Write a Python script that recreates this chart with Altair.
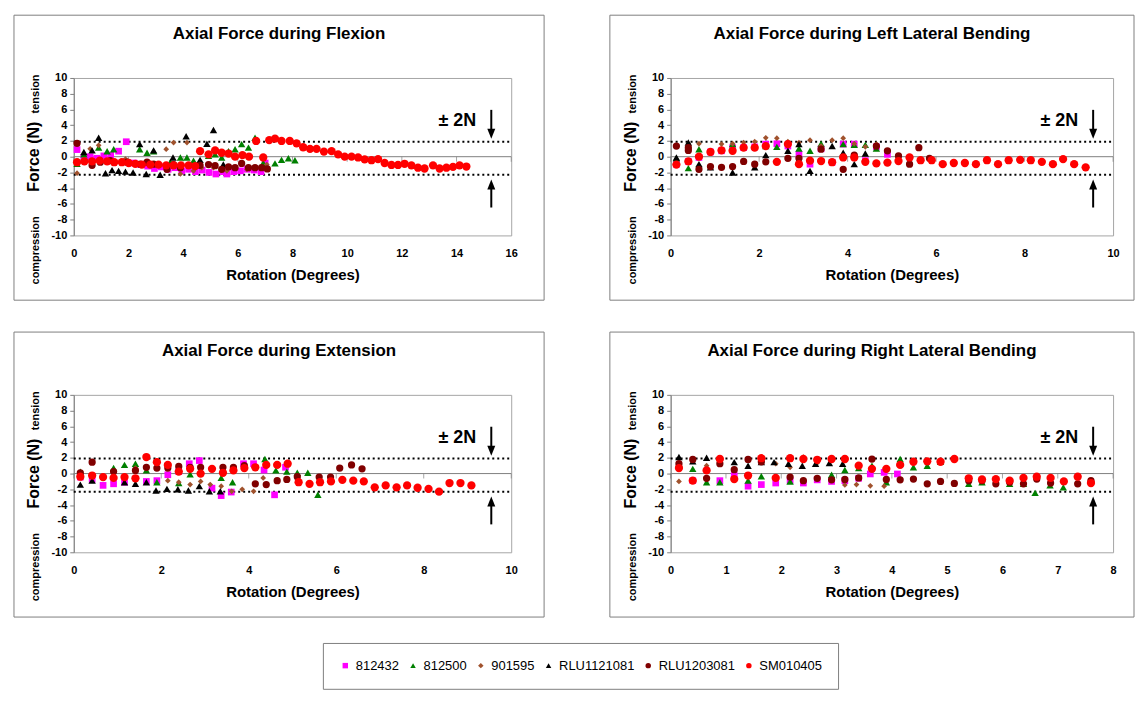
import altair as alt
import pandas as pd

SERIES = ["812432", "812500", "901595", "RLU1121081", "RLU1203081", "SM010405"]
COLORS = ["#FF00FF", "#008000", "#A0522D", "#000000", "#800000", "#FF0000"]
SHAPES = ["square", "triangle-up", "diamond", "triangle-up", "circle", "circle"]
SIZES = [45, 55, 33, 55, 53, 69]

TITLES = ["Axial Force during Flexion", "Axial Force during Left Lateral Bending",
          "Axial Force during Extension", "Axial Force during Right Lateral Bending"]
X_MAX = [16, 10, 10, 8]
X_STEP = [2, 2, 2, 1]
Y_TICKS = [-10, -8, -6, -4, -2, 0, 2, 4, 6, 8, 10]
THRESHOLDS = [1.9, -2.3]

# ---------------- Flexion ----------------
FLEX_812432 = [(0.12, 0.9), (0.37, -0.1), (0.6, 0.0), (0.85, -0.2), (1.1, 0.1), (1.35, 0.2), (1.64, 0.7),
               (1.92, 1.9), (2.2, -0.8), (2.45, -1.0), (2.7, -1.2), (2.95, -1.5), (3.2, -1.3), (3.45, -1.6),
               (3.7, -1.4), (3.95, -1.8), (4.2, -1.6), (4.45, -1.9), (4.7, -1.7), (4.95, -2.0), (5.2, -2.2),
               (5.45, -1.9), (5.6, -2.2), (5.85, -1.9), (6.1, -1.8), (6.35, -1.6), (6.6, -1.7), (6.85, -1.9),
               (7.0, -0.8)]
FLEX_812500 = [(0.12, -0.9), (0.37, 0.3), (0.91, 1.15), (1.22, 0.7), (1.46, 0.95), (2.41, 0.95), (2.68, 0.5),
               (2.92, 0.7), (3.53, -0.7), (3.9, -0.1), (4.14, -0.1), (4.38, -0.5), (4.93, 0.1), (5.17, 0.3),
               (5.41, -0.1), (5.66, 0.7), (5.9, 0.95), (6.14, 1.6), (6.39, 1.15), (6.63, 2.4), (6.93, -0.8),
               (7.36, -0.85), (7.6, -0.4), (7.85, -0.2), (8.09, -0.45)]
FLEX_901595 = [(0.12, -2.1), (0.12, 1.8), (0.6, 1.0), (0.91, 1.45), (1.89, -0.3), (3.38, 0.95), (3.65, 1.8),
               (3.9, -2.2), (4.14, 1.8), (4.38, -1.8), (4.68, -1.4), (5.11, -1.4), (5.6, -1.8), (6.33, -1.6),
               (7.06, -1.0)]
FLEX_RLU1121081 = [(0.37, 0.6), (0.67, 0.8), (0.91, 2.4), (1.16, -2.1), (1.4, -1.7), (1.64, -1.8), (1.89, -1.9),
                   (2.17, -2.0), (2.41, 1.6), (2.65, -2.2), (2.92, 0.8), (3.16, -2.3), (3.63, -0.1), (4.11, 2.6),
                   (4.62, -0.4), (4.87, 1.65), (5.11, 3.4), (5.47, -1.0)]
FLEX_RLU1203081 = [(0.12, 1.7), (0.67, -1.1), (0.97, -0.7), (1.34, -0.5), (1.95, -0.7), (2.43, -0.95),
                   (2.68, -0.7), (2.92, -0.95), (3.41, -1.6), (3.65, -1.0), (3.9, -1.4), (4.62, -1.1),
                   (4.93, -1.0), (5.17, -1.15), (5.41, -1.6), (5.66, -1.3), (5.9, -1.4), (6.14, -0.85),
                   (6.39, -1.4), (6.63, -1.4), (6.87, -1.4), (7.08, -1.55)]
FLEX_SM010405 = [(0.12, -0.7), (0.39, -0.6), (0.67, -0.6), (0.95, -0.5), (1.22, -0.6), (1.48, -0.7),
                 (1.76, -0.7), (2.01, -0.8), (2.25, -0.9), (2.49, -1.0), (2.8, -1.0), (3.1, -1.0), (3.38, -1.1),
                 (3.65, -1.1), (3.92, -1.1), (4.2, -1.1), (4.44, -1.2),
                 (4.62, 0.7), (4.93, 0.3), (5.17, 0.8), (5.41, 0.5), (5.66, 0.4), (5.9, 0.0), (6.17, 0.2),
                 (6.41, 0.0), (6.67, 2.0), (6.93, -0.1), (7.15, 2.1), (7.36, 2.3), (7.6, 2.0), (7.9, 2.0),
                 (8.15, 1.7), (8.39, 1.2), (8.64, 1.0), (8.88, 1.0), (9.15, 0.65), (9.43, 0.7), (9.67, 0.3),
                 (9.91, 0.0), (10.16, 0.0), (10.4, -0.1), (10.64, -0.35), (10.89, -0.45), (11.13, -0.3),
                 (11.37, -0.8), (11.62, -1.05), (11.86, -1.05), (12.1, -0.9), (12.35, -1.1), (12.59, -1.4),
                 (12.83, -1.5), (13.14, -1.1), (13.38, -1.5), (13.63, -1.4), (13.87, -1.3), (14.11, -1.1),
                 (14.36, -1.25)]

# ---------------- Left lateral bending ----------------
LLB_812432 = [(0.13, -0.95), (0.4, -0.6), (0.64, -0.1), (0.9, 0.6), (1.15, 0.75), (1.4, 1.15), (1.65, 1.15),
              (1.9, 1.25), (2.15, 1.6), (2.4, 1.65), (2.65, 1.35), (2.9, 0.3), (3.15, -0.95), (3.4, 1.0),
              (3.65, -0.7), (3.9, 1.6), (4.15, 1.6), (4.4, -0.5), (4.65, 1.25), (4.9, 0.3)]
LLB_812500 = [(0.13, -0.2), (0.4, -1.45), (0.64, 0.95), (1.4, 1.6), (2.15, 1.35), (2.4, 1.25), (2.9, 1.05),
              (3.15, 0.75), (3.4, 1.65), (3.9, 1.6), (4.15, 1.5), (4.4, 1.5), (4.65, 1.05)]
LLB_901595 = [(0.4, 1.6), (0.64, 1.65), (1.15, 1.6), (1.4, 1.65), (1.65, 1.8), (1.9, 1.9), (2.15, 2.4),
              (2.4, 2.35), (2.65, 1.9), (2.9, 1.8), (3.15, 2.1), (3.4, 1.35), (3.65, 2.1), (3.9, 2.35),
              (4.15, 1.65), (4.4, 1.25), (4.65, 1.6)]
LLB_RLU1121081 = [(0.13, -0.1), (0.4, 1.8), (0.64, -0.95), (0.9, -1.35), (1.4, -2.0), (1.9, -1.35), (2.15, 0.2),
                  (2.65, 0.75), (2.9, 1.6), (3.15, -1.8), (3.65, 1.35), (3.9, 0.5), (4.15, -0.95), (4.4, 0.4)]
LLB_RLU1203081 = [(0.13, 1.35), (0.4, 1.15), (0.4, 0.8), (0.64, -1.6), (0.9, -1.25), (1.15, -1.35),
                  (1.4, -1.25), (1.65, -0.6), (1.9, -0.95), (2.15, -0.65), (2.65, -0.2), (2.9, -0.2),
                  (3.4, 0.95), (3.9, -1.6), (4.15, 0.2), (4.65, 1.35), (4.9, 0.75), (5.15, 0.1), (5.4, -0.95),
                  (5.61, 1.15), (5.85, -0.2)]
LLB_SM010405 = [(0.13, -1.0), (0.4, -0.6), (0.64, 0.0), (0.9, 0.6), (1.15, 0.8), (1.4, 0.75), (1.65, 1.15),
                (1.9, 1.15), (2.15, 1.35), (2.4, -0.65), (2.65, 1.6), (2.9, -0.95), (3.15, -0.5), (3.4, -0.55),
                (3.65, -0.7), (3.9, -0.1), (4.15, -0.1), (4.4, -0.65), (4.65, -0.85), (4.9, -0.75),
                (5.15, -0.55), (5.4, -0.1), (5.65, -0.45), (5.9, -0.45), (6.15, -0.95), (6.4, -0.8),
                (6.65, -0.8), (6.9, -0.95), (7.15, -0.45), (7.4, -0.95), (7.64, -0.45), (7.9, -0.4),
                (8.14, -0.45), (8.39, -0.65), (8.64, -0.95), (8.87, -0.3), (9.12, -0.95), (9.38, -1.35)]

# ---------------- Extension ----------------
EXT_812432 = [(0.15, -0.45), (0.42, -0.75), (0.67, -1.5), (0.91, -1.3), (1.16, -1.1), (1.66, -1.0),
              (1.9, -0.9), (2.15, -0.15), (2.4, 0.25), (2.64, 1.25), (2.87, 1.65), (3.16, -1.85),
              (3.37, -2.8), (3.6, -2.35), (3.88, 1.25), (4.11, 1.25), (4.35, 0.45), (4.59, -2.7), (4.84, 0.8)]
EXT_812500 = [(0.15, 0.25), (0.91, 0.7), (1.16, 1.1), (1.41, 1.25), (1.66, 0.4), (1.9, -1.1), (2.4, -1.2),
              (2.66, -0.1), (3.37, -0.55), (3.63, -1.1), (4.37, 1.85), (4.62, 0.4), (4.87, 0.25), (5.11, 0.1),
              (5.35, 0.1), (5.58, -2.7)]
EXT_901595 = [(0.15, -0.25), (1.41, 0.7), (2.15, -0.9), (2.4, -1.1), (2.66, -1.4), (2.9, -1.0), (3.12, -1.4),
              (3.37, -1.6), (3.61, -2.25), (3.85, -2.0), (4.11, -2.25), (4.33, -0.55)]
EXT_RLU1121081 = [(0.15, -1.4), (0.42, -0.9), (1.16, -1.1), (1.41, -1.3), (1.66, -1.1), (1.88, -2.15),
                  (2.13, -1.95), (2.38, -2.0), (2.62, -2.15), (2.87, -1.6), (3.1, -2.25), (3.35, -2.25)]
EXT_RLU1203081 = [(0.15, 0.1), (0.42, 1.45), (0.91, 0.25), (1.41, 0.4), (1.66, 0.8), (1.9, 0.7), (2.15, 0.7),
                  (2.4, 0.9), (2.66, 0.8), (2.9, 0.8), (3.41, 0.8), (3.65, 0.8), (3.9, 1.0), (4.15, -1.3),
                  (4.4, -1.4), (4.65, -0.9), (4.87, -0.75), (5.11, -0.4), (5.61, -0.45), (5.87, -0.45),
                  (6.08, 0.7), (6.35, 1.1), (6.59, 0.6)]
EXT_SM010405 = [(0.15, -0.4), (0.42, -0.25), (0.67, -0.45), (0.91, -0.55), (1.16, -0.45), (1.41, -0.6),
                (1.66, 2.1), (1.9, 1.45), (2.15, 1.1), (2.4, 0.25), (2.66, 0.6), (2.9, 0.0), (3.16, 0.6),
                (3.41, 0.1), (3.65, 0.4), (3.9, 0.7), (4.15, 0.8), (4.4, 1.1), (4.65, 1.1), (4.89, 1.25),
                (5.14, -1.1), (5.39, -1.3), (5.63, -1.1), (5.88, -1.0), (6.14, -0.8), (6.39, -0.9),
                (6.63, -1.0), (6.88, -1.75), (7.13, -1.5), (7.38, -1.75), (7.62, -1.5), (7.86, -1.8),
                (8.11, -1.95), (8.35, -2.3), (8.59, -1.2), (8.84, -1.2), (9.09, -1.5)]

# ---------------- Right lateral bending ----------------
RLB_812432 = [(0.4, -0.9), (0.89, -0.9), (1.15, -0.25), (1.4, -1.6), (1.64, -1.4), (1.9, -1.2), (2.16, -0.9),
              (2.4, -1.2), (2.65, -0.8), (2.91, -1.0), (3.15, -0.9), (3.4, -0.6), (3.61, -0.05), (3.86, 0.15),
              (4.1, -0.05)]
RLB_812500 = [(0.15, 1.25), (0.4, 0.6), (0.65, -1.1), (0.89, -1.1), (1.4, -0.9), (1.64, -0.35), (2.16, -1.0),
              (2.91, -0.15), (3.15, 0.45), (3.4, 0.7), (3.64, 1.0), (3.9, -1.1), (4.15, 1.85), (4.39, 0.8),
              (4.64, 1.0), (4.88, 1.5), (5.39, -1.3), (5.63, -1.1), (6.13, -1.3), (6.38, -1.3), (6.59, -2.45),
              (6.86, -1.5), (7.1, -1.75)]
RLB_901595 = [(0.15, -1.0), (0.65, 1.0), (0.89, 1.25), (1.4, 1.75), (1.64, 1.5), (1.9, 1.25), (2.16, 0.8),
              (2.4, 2.1), (2.65, 1.35), (3.15, -1.45), (3.36, -1.4), (3.61, -1.55), (3.86, -1.6)]
RLB_RLU1121081 = [(0.15, 2.1), (0.4, 1.55), (0.65, 2.0), (1.15, 1.45), (1.4, 1.0), (1.64, 1.45), (1.87, 1.45),
                  (2.13, 1.25), (2.38, 1.0), (2.62, 1.25), (2.87, 1.35), (3.11, 1.25)]
RLB_RLU1203081 = [(0.15, 1.25), (0.4, 1.8), (0.65, -0.6), (0.89, 1.25), (1.15, 0.5), (1.4, 1.8), (1.64, 1.5),
                  (2.16, -0.45), (2.4, -0.9), (2.65, -0.6), (2.91, -0.8), (3.15, -0.75), (3.4, -0.55),
                  (3.64, 1.85), (3.9, -0.75), (4.15, -0.8), (4.39, -0.7), (4.64, -1.3), (4.88, -1.0),
                  (5.13, -1.25), (5.39, -0.9), (5.63, -0.9), (5.88, -1.3), (6.13, -1.1), (6.38, -1.3),
                  (6.62, -0.7), (6.87, -1.2), (7.36, -1.3), (7.6, -0.9)]
RLB_SM010405 = [(0.15, 0.7), (0.4, -0.9), (0.65, 0.4), (0.89, 1.85), (1.15, -0.7), (1.4, -0.25), (1.64, 1.95),
                (1.9, -0.55), (2.16, 1.95), (2.4, 1.85), (2.65, 1.75), (2.91, 1.85), (3.15, 1.85), (3.4, 1.0),
                (3.64, 0.6), (3.9, 0.6), (4.15, 1.1), (4.39, 1.5), (4.64, 1.55), (4.88, 1.5), (5.13, 1.85),
                (5.39, -0.6), (5.63, -0.75), (5.88, -0.7), (6.13, -0.9), (6.38, -0.55), (6.62, -0.4),
                (6.87, -0.55), (7.11, -1.0), (7.36, -0.4), (7.6, -1.2)]

PANEL_DATA = [
    [FLEX_812432, FLEX_812500, FLEX_901595, FLEX_RLU1121081, FLEX_RLU1203081, FLEX_SM010405],
    [LLB_812432, LLB_812500, LLB_901595, LLB_RLU1121081, LLB_RLU1203081, LLB_SM010405],
    [EXT_812432, EXT_812500, EXT_901595, EXT_RLU1121081, EXT_RLU1203081, EXT_SM010405],
    [RLB_812432, RLB_812500, RLB_901595, RLB_RLU1121081, RLB_RLU1203081, RLB_SM010405],
]

FONT = "Liberation Sans"
H = 158
PANEL_W = [439, 444, 439, 444]
BOX_LEFT = [-60, -61, -60, -61]
BOX_RIGHT = [33, 21, 33, 21]

ONE = pd.DataFrame({"k": [0]})


def text_layer(text, x, y, size, angle=0, weight="bold"):
    return alt.Chart(ONE).mark_text(
        text=text, fontSize=size, fontWeight=weight, angle=angle, align="center",
        baseline="middle", color="black", font=FONT
    ).encode(x=alt.value(x), y=alt.value(y))


def make_panel(i):
    W = PANEL_W[i]
    xmax = X_MAX[i]
    xticks = list(range(0, xmax + 1, X_STEP[i]))

    xscale = alt.Scale(domain=[0, xmax], nice=False, zero=False)
    yscale = alt.Scale(domain=[-10, 10], nice=False, zero=False)
    xaxis = alt.Axis(
        values=xticks, title="Rotation (Degrees)", domain=False, ticks=False, grid=False,
        labelFontWeight="bold", labelFontSize=11, labelColor="black", labelPadding=12,
        labelFlush=False, titleFontSize=15, titleFontWeight="bold", titleColor="black",
        titlePadding=9)
    yaxis = alt.Axis(
        values=Y_TICKS, title="", grid=False, domainColor="#808080", tickColor="#808080",
        tickSize=4, labelFontWeight="bold", labelFontSize=11, labelColor="black", labelPadding=3,
        labelExpr="'' + datum.value")
    legend = alt.Legend(title=None, symbolSize=30)
    color = alt.Color("series:N", scale=alt.Scale(domain=SERIES, range=COLORS), legend=legend)
    shape = alt.Shape("series:N", scale=alt.Scale(domain=SERIES, range=SHAPES), legend=legend)

    frame = alt.Chart(ONE).mark_rect(fillOpacity=0, stroke="#7f7f7f", strokeWidth=1).encode(
        x=alt.value(BOX_LEFT[i]), x2=alt.value(W + BOX_RIGHT[i]),
        y=alt.value(-63), y2=alt.value(H + 65))

    zero = alt.Chart(ONE).mark_rule(color="#808080", strokeWidth=1).encode(
        y=alt.Y(datum=0, scale=yscale, axis=yaxis), x=alt.value(0), x2=alt.value(W))

    thr = alt.Chart(pd.DataFrame({"y": THRESHOLDS})).mark_rule(
        color="black", strokeWidth=2, strokeDash=[2, 3]).encode(
        y=alt.Y("y:Q", scale=yscale, axis=yaxis), x=alt.value(0), x2=alt.value(W))

    xt = alt.Chart(pd.DataFrame({"x": xticks})).mark_tick(
        orient="vertical", size=5, thickness=1, color="#808080", yOffset=2.5).encode(
        x=alt.X("x:Q", scale=xscale, axis=xaxis), y=alt.Y(datum=0, scale=yscale, axis=yaxis))

    point_layers = []
    for s, pts, sz in zip(SERIES, PANEL_DATA[i], SIZES):
        dfs = pd.DataFrame({"series": [s] * len(pts),
                            "x": [p[0] for p in pts],
                            "y": [p[1] for p in pts]})
        point_layers.append(
            alt.Chart(dfs).mark_point(filled=True, opacity=1, strokeWidth=0, size=sz).encode(
                x=alt.X("x:Q", scale=xscale, axis=xaxis),
                y=alt.Y("y:Q", scale=yscale, axis=yaxis),
                color=color, shape=shape))

    ax = W - 20
    down_shaft = alt.Chart(ONE).mark_rule(color="black", strokeWidth=2).encode(
        x=alt.value(ax), y=alt.value(32), y2=alt.value(53))
    down_head = alt.Chart(ONE).mark_point(shape="M-0.8,-1L0.8,-1L0,1Z", size=100, filled=True,
                                          opacity=1, color="black", strokeWidth=0).encode(
        x=alt.value(ax), y=alt.value(56))
    up_shaft = alt.Chart(ONE).mark_rule(color="black", strokeWidth=2).encode(
        x=alt.value(ax), y=alt.value(110), y2=alt.value(130))
    up_head = alt.Chart(ONE).mark_point(shape="M-0.8,1L0.8,1L0,-1Z", size=100, filled=True,
                                        opacity=1, color="black", strokeWidth=0).encode(
        x=alt.value(ax), y=alt.value(107))

    title = text_layer(TITLES[i], (BOX_LEFT[i] + W + BOX_RIGHT[i]) / 2, -44, 17)
    force = text_layer("Force (N)", -40, H / 2, 16, angle=270)
    tension = text_layer("tension", -38, 16, 11, angle=270)
    compression = text_layer("compression", -38, 173, 11, angle=270)
    pm = text_layer("\u00b1 2N", W - 54, 43, 18)

    return alt.layer(frame, zero, thr, xt, *point_layers, down_shaft, down_head, up_shaft, up_head,
                     title, force, tension, compression, pm).properties(width=W, height=H)


row1 = alt.hconcat(make_panel(0), make_panel(1), spacing=64)
row2 = alt.hconcat(make_panel(2), make_panel(3), spacing=64)

chart = alt.vconcat(row1, row2, spacing=30).configure(
    font=FONT
).configure_view(
    stroke="#a6a6a6", strokeWidth=1
).configure_legend(
    orient="none", legendX=250, legendY=567, direction="horizontal", columns=6,
    strokeColor="#808080", fillColor="white", padding=16, labelFont=FONT, labelFontSize=13,
    labelColor="black", symbolSize=30, symbolStrokeWidth=0, columnPadding=7, labelOffset=4
).properties(padding={"left": 5, "top": 5, "right": 0, "bottom": 5})

chart.save("out.html", embed_options={"renderer": "svg", "actions": False})
